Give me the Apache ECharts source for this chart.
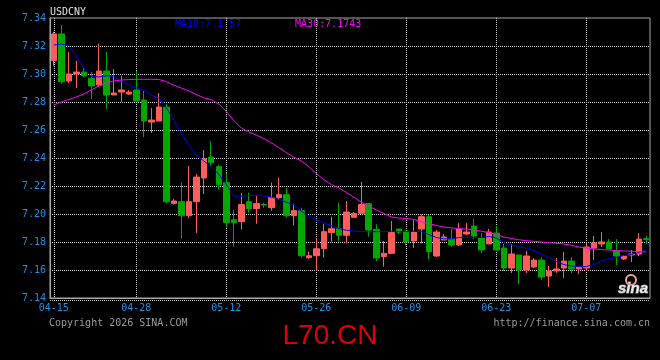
<!DOCTYPE html>
<html><head><meta charset="utf-8">
<script src="https://cdn.jsdelivr.net/npm/echarts@6/dist/echarts.min.js"></script>
<style>html,body{margin:0;padding:0;background:#000}#c{width:660px;height:360px}</style>
</head><body><div id="c"></div>
<script>
const dates = ['04-15','04-16','04-17','04-18','04-20','04-21','04-22','04-23','04-24','04-25',
'04-27','04-28','04-29','04-30','05-01','05-02','05-04','05-05','05-06','05-07',
'05-08','05-09','05-11','05-12','05-13','05-14','05-15','05-16','05-18','05-19',
'05-20','05-21','05-22','05-23','05-25','05-26','05-27','05-28','05-29','05-30',
'06-01','06-02','06-03','06-04','06-05','06-06','06-08','06-09','06-10','06-11',
'06-12','06-13','06-15','06-16','06-17','06-18','06-19','06-20','06-22','06-23',
'06-24','06-25','06-26','06-27','06-29','06-30','07-01','07-02','07-03','07-04',
'07-06','07-07','07-08','07-09','07-10','07-11','07-13','07-14','07-15','07-16'];
const opens = [7.3095,7.3286,7.2950,7.3000,7.3014,7.2970,7.2921,7.3021,7.2850,7.2871,
7.2857,7.2886,7.2814,7.2657,7.2664,7.2764,7.2076,7.2088,7.1988,7.2088,
7.2257,7.2407,7.2338,7.2224,7.1959,7.1945,7.2088,7.2038,7.2069,7.2045,
7.2117,7.2138,7.1988,7.2024,7.1688,7.1702,7.1752,7.1867,7.1898,7.1848,
7.1976,7.2005,7.2074,7.1890,7.1695,7.1719,7.1893,7.1879,7.1807,7.1893,
7.1981,7.1700,7.1814,7.1821,7.1779,7.1857,7.1914,7.1829,7.1786,7.1864,
7.1757,7.1614,7.1707,7.1600,7.1621,7.1671,7.1557,7.1593,7.1614,7.1664,
7.1607,7.1614,7.1757,7.1786,7.1800,7.1736,7.1679,7.1707,7.1714,7.1823];
const closes = [7.3286,7.2945,7.3000,7.3014,7.2986,7.2914,7.3021,7.2850,7.2864,7.2886,
7.2871,7.2807,7.2664,7.2671,7.2764,7.2088,7.2093,7.1988,7.2088,7.2264,
7.2393,7.2367,7.2209,7.1938,7.1938,7.2067,7.2038,7.2074,7.2064,7.2117,
7.2138,7.1988,7.2024,7.1702,7.1702,7.1752,7.1874,7.1895,7.1848,7.2014,
7.2005,7.2067,7.1886,7.1686,7.1719,7.1867,7.1871,7.1800,7.1871,7.1981,
7.1731,7.1871,7.1836,7.1779,7.1893,7.1871,7.1843,7.1743,7.1871,7.1743,
7.1614,7.1714,7.1600,7.1700,7.1671,7.1550,7.1593,7.1607,7.1664,7.1607,
7.1621,7.1764,7.1793,7.1800,7.1750,7.1700,7.1700,7.1714,7.1821,7.1819];
const lows = [7.3060,7.2929,7.2936,7.2900,7.2979,7.2821,7.2907,7.2750,7.2850,7.2800,
7.2850,7.2807,7.2550,7.2579,7.2664,7.2076,7.2067,7.1824,7.1971,7.1864,
7.2143,7.2338,7.2174,7.1902,7.1767,7.1888,7.2009,7.1931,7.2045,7.2024,
7.2102,7.1974,7.1917,7.1688,7.1679,7.1595,7.1688,7.1802,7.1805,7.1790,
7.1976,7.2005,7.1838,7.1662,7.1624,7.1719,7.1857,7.1776,7.1757,7.1790,
7.1676,7.1693,7.1814,7.1764,7.1771,7.1850,7.1821,7.1721,7.1786,7.1736,
7.1593,7.1579,7.1500,7.1579,7.1614,7.1529,7.1479,7.1579,7.1543,7.1579,
7.1571,7.1593,7.1671,7.1764,7.1750,7.1636,7.1671,7.1657,7.1700,7.1786];
const highs = [7.3300,7.3350,7.3157,7.3093,7.3050,7.3014,7.3217,7.3157,7.3036,7.2986,
7.2886,7.3021,7.2879,7.2757,7.2864,7.2786,7.2107,7.2224,7.2343,7.2286,
7.2457,7.2521,7.2352,7.2295,7.2031,7.2152,7.2152,7.2131,7.2081,7.2224,
7.2259,7.2188,7.2074,7.2045,7.1731,7.1824,7.1931,7.1981,7.2081,7.2093,
7.2014,7.2229,7.2074,7.1926,7.1807,7.1950,7.1893,7.1879,7.1957,7.1995,
7.1995,7.1886,7.1857,7.1893,7.1936,7.1936,7.1964,7.1864,7.1893,7.1914,
7.1786,7.1786,7.1707,7.1736,7.1686,7.1693,7.1629,7.1686,7.1729,7.1693,
7.1621,7.1793,7.1843,7.1871,7.1821,7.1821,7.1707,7.1743,7.1864,7.1843];
const ma10 = [7.3207,7.3214,7.3204,7.3129,7.3043,7.2982,7.2979,7.2986,7.2986,7.2950,
7.2921,7.2900,7.2886,7.2850,7.2829,7.2760,7.2670,7.2570,7.2495,7.2421,
7.2379,7.2340,7.2284,7.2212,7.2129,7.2128,7.2131,7.2136,7.2129,7.2121,
7.2104,7.2085,7.2066,7.2021,7.1986,7.1957,7.1940,7.1916,7.1896,7.1884,
7.1879,7.1875,7.1874,7.1874,7.1875,7.1876,7.1875,7.1875,7.1876,7.1875,
7.1853,7.1832,7.1823,7.1821,7.1832,7.1833,7.1833,7.1832,7.1840,7.1829,
7.1796,7.1779,7.1767,7.1757,7.1739,7.1714,7.1688,7.1661,7.1639,7.1629,
7.1624,7.1624,7.1639,7.1664,7.1681,7.1690,7.1704,7.1711,7.1725,7.1745];
const ma30 = [7.2779,7.2800,7.2818,7.2836,7.2857,7.2886,7.2914,7.2936,7.2950,7.2957,
7.2960,7.2962,7.2962,7.2962,7.2961,7.2946,7.2920,7.2900,7.2879,7.2854,
7.2830,7.2818,7.2786,7.2733,7.2668,7.2614,7.2586,7.2564,7.2539,7.2509,
7.2474,7.2439,7.2407,7.2379,7.2340,7.2289,7.2246,7.2210,7.2187,7.2154,
7.2121,7.2084,7.2057,7.2029,7.2004,7.1979,7.1971,7.1968,7.1961,7.1946,
7.1932,7.1918,7.1907,7.1901,7.1896,7.1893,7.1886,7.1877,7.1868,7.1854,
7.1836,7.1825,7.1816,7.1810,7.1805,7.1800,7.1795,7.1791,7.1786,7.1776,
7.1764,7.1757,7.1751,7.1746,7.1743,7.1739,7.1736,7.1734,7.1731,7.1729];
const labelIdx = [0, 11, 23, 35, 47, 59, 71];
const titleText = 'USDCNY';
const ma10Text = 'MA10:7.1757';
const ma30Text = 'MA30:7.1743';

const candles = dates.map((d, i) => [opens[i], closes[i], lows[i], highs[i]]);
const UP = '#ff5c5c', DOWN = '#00a800';
const MONO = '"DejaVu Sans Mono", monospace';
const showIdx = (i) => labelIdx.indexOf(i) >= 0;

const chart = echarts.init(document.getElementById('c'), null, {renderer: 'canvas'});
chart.setOption({
  backgroundColor: '#000',
  animation: false,
  grid: {left: 50, right: 10, top: 18, bottom: 62, containLabel: false, outerBoundsMode: 'none',
         show: true, borderColor: '#a8a8a8', borderWidth: 1, backgroundColor: 'transparent'},
  xAxis: {
    type: 'category', data: dates, boundaryGap: true,
    axisLine: {show: true, lineStyle: {color: '#a8a8a8', width: 1}},
    axisTick: {show: false},
    axisLabel: {interval: (i) => showIdx(i), color: '#1e90e6', fontFamily: MONO, fontSize: 10, margin: 5},
    splitLine: {show: true, interval: (i) => showIdx(i), alignWithLabel: true,
                lineStyle: {color: '#d0d0d0', type: 'dotted', width: 1}}
  },
  yAxis: {
    type: 'value', min: 7.14, max: 7.34, interval: 0.02, position: 'left',
    axisLine: {show: true, lineStyle: {color: '#a8a8a8'}},
    axisTick: {show: false},
    axisLabel: {color: '#1e90e6', fontFamily: MONO, fontSize: 10, margin: 4,
                formatter: (v) => v.toFixed(2)},
    splitLine: {show: true, showMinLine: false, showMaxLine: false,
                lineStyle: {color: '#d0d0d0', type: 'dotted', width: 1}}
  },
  series: [
    {type: 'candlestick', data: candles, barWidth: 6,
     itemStyle: {color: UP, color0: DOWN, borderColor: UP, borderColor0: DOWN, borderWidth: 1}},
    {type: 'line', data: ma10, symbol: 'none', lineStyle: {color: '#0000ff', width: 1}, z: 5},
    {type: 'line', data: ma30, symbol: 'none', lineStyle: {color: '#ff00ff', width: 1}, z: 5}
  ],
  graphic: [
    {type: 'text', x: 50, y: 7, style: {text: titleText, fill: '#e0e0e0', font: '10px ' + MONO, align: 'left', verticalAlign: 'top'}},
    {type: 'text', x: 175, y: 19, style: {text: ma10Text, fill: '#0000ff', font: '10px ' + MONO, align: 'left', verticalAlign: 'top'}},
    {type: 'text', x: 295, y: 19, style: {text: ma30Text, fill: '#ff00ff', font: '10px ' + MONO, align: 'left', verticalAlign: 'top'}},
    {type: 'text', x: 49, y: 318, style: {text: 'Copyright 2026 SINA.COM', fill: '#9a9a9a', font: '10px ' + MONO, align: 'left', verticalAlign: 'top'}},
    {type: 'text', x: 650, y: 318, style: {text: 'http://finance.sina.com.cn', fill: '#9a9a9a', font: '10px ' + MONO, align: 'right', verticalAlign: 'top'}},
    {type: 'text', x: 330, y: 350, style: {text: 'L70.CN', fill: '#e00000', font: '28px "Liberation Sans", Arial, sans-serif', align: 'center', verticalAlign: 'bottom'}},
    {type: 'line', shape: {x1: 50, y1: 300.5, x2: 650, y2: 300.5}, style: {stroke: '#c8c8c8', lineWidth: 1, lineDash: [1, 1]}},
    {type: 'circle', shape: {cx: 631, cy: 280, r: 5}, style: {fill: 'none', stroke: '#f0a0a0', lineWidth: 2}, z: 20},
    {type: 'text', x: 633, y: 296, style: {text: 'sina', fill: '#e8e8e8', stroke: '#888', lineWidth: 1, font: 'italic bold 15px "Liberation Sans", Arial, sans-serif', align: 'center', verticalAlign: 'bottom'}, z: 20}
  ]
});
</script></body></html>
